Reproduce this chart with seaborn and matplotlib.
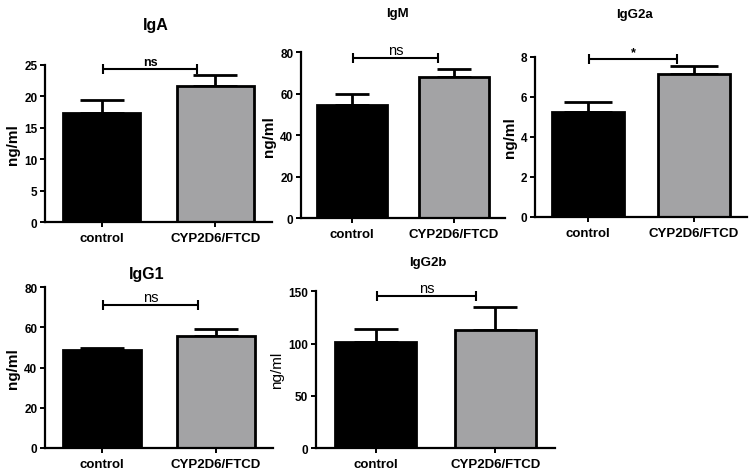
import matplotlib
matplotlib.use("Agg")
import matplotlib.pyplot as plt
import seaborn as sns
import pandas as pd

sns.set_style("ticks")
plt.rcParams['font.family'] = ['Liberation Sans', 'DejaVu Sans']
plt.rcParams.update({
    'text.color': 'black', 'axes.labelcolor': 'black',
    'xtick.color': 'black', 'ytick.color': 'black', 'axes.edgecolor': 'black',
})

categories = ["control", "CYP2D6/FTCD"]
panels = ["IgA", "IgM", "IgG2a", "IgG1", "IgG2b"]
means = {
    "IgA": [17.4, 21.6],
    "IgM": [54.7, 67.9],
    "IgG2a": [5.25, 7.12],
    "IgG1": [48.9, 55.6],
    "IgG2b": [101.3, 113.3],
}
sems = {
    "IgA": [2.0, 1.8],
    "IgM": [5.2, 4.0],
    "IgG2a": [0.47, 0.40],
    "IgG1": [0.9, 3.6],
    "IgG2b": [13.0, 21.7],
}
ymax = {"IgA": 25, "IgM": 80, "IgG2a": 8, "IgG1": 80, "IgG2b": 150}
yticks = {
    "IgA": [0, 5, 10, 15, 20, 25],
    "IgM": [0, 20, 40, 60, 80],
    "IgG2a": [0, 2, 4, 6, 8],
    "IgG1": [0, 20, 40, 60, 80],
    "IgG2b": [0, 50, 100, 150],
}
sig_labels = {"IgA": "ns", "IgM": "ns", "IgG2a": "*", "IgG1": "ns", "IgG2b": "ns"}
sig_heights = {"IgA": 24.4, "IgM": 77.3, "IgG2a": 7.9, "IgG1": 71.2, "IgG2b": 145.8}

W, H = 754, 477
# axes boxes in pixels: left, right, top, bottom
boxes = {
    "IgA": (45, 272, 66, 223),
    "IgM": (301, 505, 53.3, 219),
    "IgG2a": (535, 747, 57.7, 218),
    "IgG1": (45, 273, 288.3, 449),
    "IgG2b": (316, 555, 292.3, 449.3),
}
NARROW = ['Liberation Sans Narrow', 'Liberation Sans', 'DejaVu Sans']
REG = ['Liberation Sans', 'DejaVu Sans']
title_pos = {
    "IgA": (0.49, 1.26, 11.5, REG),
    "IgM": (0.475, 1.237, 9.5, NARROW),
    "IgG2a": (0.47, 1.266, 9.5, NARROW),
    "IgG1": (0.447, 1.083, 11.5, REG),
    "IgG2b": (0.469, 1.187, 9.5, NARROW),
}
ns_style = {
    "IgA": ('bold', 9, REG),
    "IgM": ('normal', 10.5, NARROW),
    "IgG2a": ('bold', 9, REG),
    "IgG1": ('normal', 10.5, NARROW),
    "IgG2b": ('normal', 10.5, NARROW),
}
ylabel_weight = {"IgA": 'bold', "IgM": 'bold', "IgG2a": 'bold', "IgG1": 'bold', "IgG2b": 'normal'}
capsizes = {"IgA": 16, "IgM": 12.5, "IgG2a": 17.5, "IgG1": 16, "IgG2b": 16}

fig = plt.figure(figsize=(W / 100, H / 100), dpi=100)
colors = ["#000000", "#A2A2A6"]

for p in panels:
    l, r, t, b = boxes[p]
    ax = fig.add_axes([l / W, (H - b) / H, (r - l) / W, (b - t) / H])
    df = pd.DataFrame({"group": categories, "value": means[p]})
    sns.barplot(data=df, x="group", y="value", hue="group", palette=colors,
                width=0.68, edgecolor="black", linewidth=2, legend=False, ax=ax,
                errorbar=None, zorder=2)
    ax.errorbar([0, 1], means[p], yerr=[[0, 0], sems[p]], fmt='none',
                ecolor='black', elinewidth=2, capsize=capsizes[p], capthick=2, zorder=1)
    ax.set_xlim(-0.5, 1.5)
    ax.set_ylim(0, ymax[p])
    ax.set_yticks(yticks[p])
    ax.set_xlabel("")
    ax.set_ylabel("ng/ml", fontsize=11, fontweight=ylabel_weight[p], labelpad=3)
    sns.despine(ax=ax)
    for s in ["left", "bottom"]:
        ax.spines[s].set_linewidth(1.6)
        ax.spines[s].set_color('black')
    ax.tick_params(axis='both', direction='out', length=3.5, width=1.4, color='black',
                   labelcolor='black')
    ax.tick_params(axis='y', labelsize=8.5, pad=2)
    ax.tick_params(axis='x', labelsize=9.5)
    for lab in ax.get_yticklabels() + ax.get_xticklabels():
        lab.set_fontweight('bold')
    # significance bracket
    yb = sig_heights[p]
    ax.plot([0.01, 0.84], [yb, yb], color='black', lw=1.5, clip_on=False)
    ax.plot([0.01, 0.84], [yb, yb], color='black', lw=0, marker='|', markersize=7,
            markeredgewidth=1.5, clip_on=False)
    w_, fs_, fam_ = ns_style[p]
    ax.text(0.425, yb + ymax[p] * 0.005, sig_labels[p], ha='center', va='bottom',
            fontsize=fs_, fontweight=w_, family=fam_, color='black')
    tx, ty, fs, fam = title_pos[p]
    ax.text(tx, ty, p, transform=ax.transAxes, ha='center', va='center',
            fontsize=fs, fontweight='bold', family=fam, color='black')

fig.savefig("out.png", dpi=100)
